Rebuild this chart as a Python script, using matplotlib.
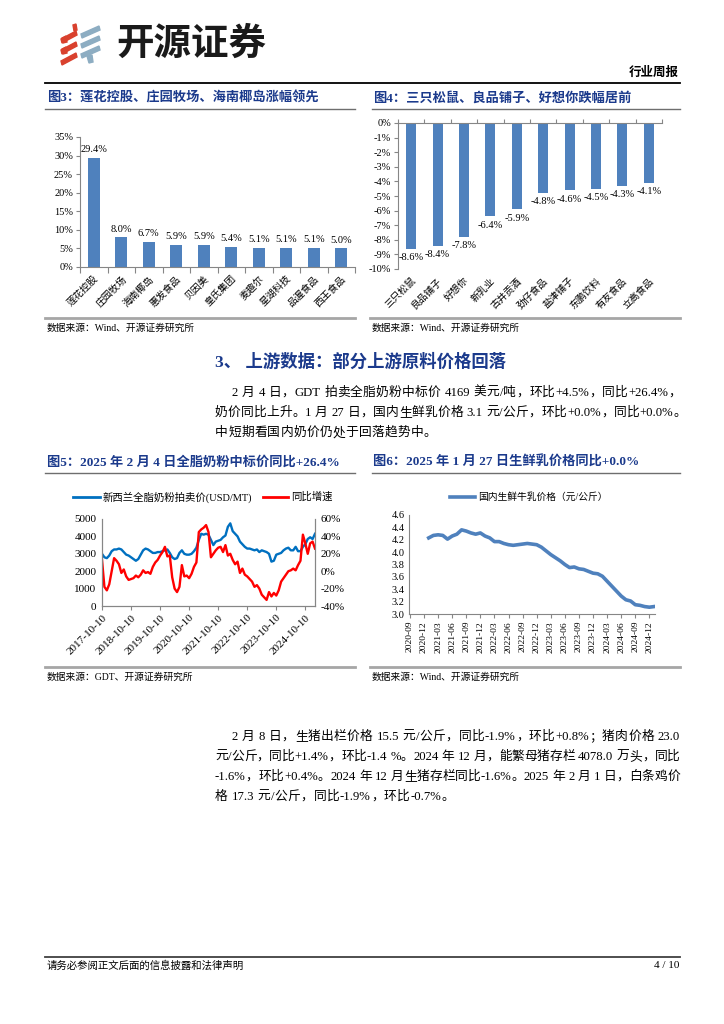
import re
import matplotlib
matplotlib.use('Agg')
import matplotlib.pyplot as plt
from matplotlib.lines import Line2D
from matplotlib.patches import Polygon
import numpy as np

W, H, DPI = 724, 1024, 100
plt.rcParams['font.family'] = ['Liberation Serif', 'Noto Sans CJK SC']
plt.rcParams['axes.unicode_minus'] = False

BAR = '#4F81BD'
NAVY = '#1B3A8C'
SPINE = '#868686'

# fig3: top gainers
f3_names = ['莲花控股', '庄园牧场', '海南椰岛', '惠发食品', '贝因美',
            '皇氏集团', '麦趣尔', '星湖科技', '品渥食品', '西王食品']
f3_vals = [29.4, 8.0, 6.7, 5.9, 5.9, 5.4, 5.1, 5.1, 5.1, 5.0]

# fig4: top losers
f4_names = ['三只松鼠', '良品铺子', '好想你', '新乳业', '古井贡酒',
            '劲仔食品', '盐津铺子', '东鹏饮料', '有友食品', '立高食品']
f4_vals = [-8.6, -8.4, -7.8, -6.4, -5.9, -4.8, -4.6, -4.5, -4.3, -4.1]

# fig5: GDT whole milk powder, monthly from 2017-10 to 2025-02
gdt_price = [3000, 2800, 2750, 2900, 3150, 3250, 3250, 3300, 3250, 3100,
             2950, 2900, 2800, 2700, 2600, 2700, 2950, 3200, 3300, 3250,
             3150, 3050, 3050, 3100, 3100, 3150, 3200, 3250, 3050, 2800,
             2700, 2750, 3050, 3200, 3000, 2950, 2950, 3000, 3150, 3350,
             3800, 4150, 4100, 4150, 4100, 3800, 3500, 3700, 3750, 3800,
             3950, 4050, 4550, 4750, 4300, 4150, 4000, 3700, 3550, 3400,
             3300, 3300, 3250, 3200, 3250, 3100, 3200, 3150, 3100, 3000,
             2550, 2600, 2950, 3000, 3050, 3200, 3300, 3350, 3200, 3200,
             3400, 3150, 3150, 3400, 3550, 3850, 3950, 3850, 4150]
gdt_yoy = [13, -18, -22, -15, 0, 15, 12, 8, -2, 2,
           -6, -10, -9, -8, -5, -7, -4, 1, -2, -1,
           -3, 5, 10, 13, 18, 22, 28, 17, 18, -7,
           -20, -24, -18, 7, -6, -5, -8, -3, 5, 10,
           45, 48, 50, 53, 45, 16, 20, 24, 27, 28,
           22, 30, 18, 20, 13, 8, 11, -2, 3, -4,
           -6, -9, -12, -18, -16, -20, -27, -30, -33, -24,
           -29, -25, -28, -22, -12, -8, -4, 0, 1, 3,
           1, 7, 12, 42, 32, 20, 32, 34, 26]
gdt_years = ['2017-10-10', '2018-10-10', '2019-10-10', '2020-10-10',
             '2021-10-10', '2022-10-10', '2023-10-10', '2024-10-10']

# fig6: domestic raw milk price, monthly, index 0 = 2020-09
milk_month = list(range(4, 53))
milk_price = [4.23, 4.27, 4.28, 4.27, 4.21, 4.26, 4.29, 4.36, 4.34, 4.31,
              4.29, 4.31, 4.26, 4.23, 4.17, 4.17, 4.14, 4.12, 4.11, 4.12,
              4.13, 4.14, 4.13, 4.12, 4.08, 4.02, 3.96, 3.91, 3.86, 3.80,
              3.75, 3.76, 3.73, 3.72, 3.69, 3.66, 3.65, 3.61, 3.53, 3.45,
              3.37, 3.29, 3.23, 3.21, 3.15, 3.14, 3.12, 3.11, 3.12]
milk_ticks = ['2020-09', '2020-12', '2021-03', '2021-06', '2021-09', '2021-12',
              '2022-03', '2022-06', '2022-09', '2022-12', '2023-03', '2023-06',
              '2023-09', '2023-12', '2024-03', '2024-06', '2024-09', '2024-12']


def fx(x):
    return x / W


def fy(y):
    return 1 - y / H


def box(l, t, r, b):
    return [l / W, 1 - b / H, (r - l) / W, (b - t) / H]


def hline(fig, x0, x1, y, color, lw):
    fig.add_artist(Line2D([fx(x0), fx(x1)], [fy(y), fy(y)], color=color, lw=lw))


def line_text(fig, s, y, x0, x1, size, justify=True, **kw):
    # place token by token so the line fills x0..x1 like justified text
    r = fig.canvas.get_renderer()
    toks = re.findall(r'[!-~]+| |.', s)
    arts, widths = [], []
    for tk in toks:
        if tk == ' ':
            arts.append(None)
            widths.append(size * 0.25 / 72 * DPI)
            continue
        t = fig.text(0, fy(y), tk, fontsize=size, va='center', ha='left', **kw)
        arts.append(t)
        widths.append(t.get_window_extent(renderer=r).width)
    gap = (x1 - x0 - sum(widths)) / max(len(toks) - 1, 1) if justify else 0.3
    x = x0
    for a, w in zip(arts, widths):
        if a is not None:
            a.set_x(fx(x))
        x += w + gap


fig = plt.figure(figsize=(W / DPI, H / DPI), dpi=DPI)

# header / logo
red = '#D9412E'
blue = '#8DADC2'
for yc in [36, 47, 58]:
    fig.add_artist(Polygon([(fx(61), fy(yc + 3)), (fx(76), fy(yc - 5)),
                            (fx(77), fy(yc - 1)), (fx(62), fy(yc + 7))],
                           closed=True, color=red, transform=fig.transFigure))
for yc in [41, 52]:
    fig.add_artist(Polygon([(fx(62), fy(yc - 3)), (fx(66), fy(yc - 5)),
                            (fx(67), fy(yc + 1)), (fx(63), fy(yc + 2))],
                           closed=True, color=red, transform=fig.transFigure))
fig.add_artist(Polygon([(fx(73), fy(25)), (fx(76), fy(24)), (fx(77), fy(30)), (fx(74), fy(31))],
                       closed=True, color=red, transform=fig.transFigure))
for yc in [31, 41, 51]:
    fig.add_artist(Polygon([(fx(81), fy(yc + 3)), (fx(99), fy(yc - 5)),
                            (fx(100), fy(yc - 1)), (fx(82), fy(yc + 7))],
                           closed=True, color=blue, transform=fig.transFigure))
fig.add_artist(Polygon([(fx(87), fy(56)), (fx(92), fy(55)), (fx(93), fy(62)), (fx(89), fy(63))],
                       closed=True, color=blue, transform=fig.transFigure))
fig.text(fx(116), fy(43), '开源证券', fontsize=27, fontweight='bold', va='center',
         ha='left', family=['Noto Sans CJK SC'], color='#1A1A1A')
fig.text(fx(679), fy(73), '行业周报', fontsize=9, fontweight='bold', ha='right', va='center')
hline(fig, 45, 680, 83, 'black', 1.3)

# figure titles row 1
fig.text(fx(47), fy(98), '图3：莲花控股、庄园牧场、海南椰岛涨幅领先', fontsize=9.5,
         fontweight='bold', color=NAVY, va='center')
fig.text(fx(373), fy(98), '图4：三只松鼠、良品铺子、好想你跌幅居前', fontsize=9.5,
         fontweight='bold', color=NAVY, va='center')
hline(fig, 45, 355, 109, '#6E6E6E', 1.0)
hline(fig, 372, 680, 109, '#6E6E6E', 1.0)

# fig3
ax3 = fig.add_axes(box(80, 137, 355, 267))
x = np.arange(len(f3_vals))
ax3.bar(x, f3_vals, width=0.42, color=BAR)
for xi, v in zip(x, f3_vals):
    ax3.text(xi, v + 1.0, f'{v:.1f}%', ha='center', va='bottom', fontsize=7.5)
ax3.set_xlim(-0.5, len(f3_vals) - 0.5)
ax3.set_ylim(0, 35)
ax3.set_yticks(range(0, 36, 5))
ax3.set_yticklabels([f'{v}%' for v in range(0, 36, 5)], fontsize=7.5)
ax3.set_xticks(np.arange(-0.5, len(f3_vals)), [])
ax3.set_xticks(x, f3_names, minor=True, rotation=45, ha='right',
               rotation_mode='anchor', fontsize=7)
ax3.tick_params(axis='x', which='major', length=4, color=SPINE)
ax3.tick_params(axis='x', which='minor', length=0, pad=5)
ax3.tick_params(axis='y', length=3, color=SPINE, pad=2)
for s in ['top', 'right']:
    ax3.spines[s].set_visible(False)
for s in ['left', 'bottom']:
    ax3.spines[s].set_color(SPINE)

# fig4
ax4 = fig.add_axes(box(398, 123, 662, 269))
x = np.arange(len(f4_vals))
ax4.bar(x, f4_vals, width=0.38, color=BAR)
for xi, v in zip(x, f4_vals):
    ax4.text(xi, v - 0.3, f'{v:.1f}%', ha='center', va='top', fontsize=7.5)
ax4.set_xlim(-0.5, len(f4_vals) - 0.5)
ax4.set_ylim(-10, 0)
ax4.set_yticks(range(-10, 1))
ax4.set_yticklabels([f'{v}%' for v in range(-10, 1)], fontsize=7.5)
ax4.set_xticks(np.arange(-0.5, len(f4_vals)), [])
ax4.set_xticks(x, f4_names, minor=True, rotation=45, ha='right',
               rotation_mode='anchor', fontsize=7)
ax4.tick_params(axis='x', which='major', top=True, bottom=False, length=3, color=SPINE)
ax4.tick_params(axis='x', which='minor', length=0, pad=5)
ax4.tick_params(axis='y', length=3, color=SPINE, pad=2)
for s in ['bottom', 'right']:
    ax4.spines[s].set_visible(False)
for s in ['left', 'top']:
    ax4.spines[s].set_color(SPINE)

# sources row 1
hline(fig, 45, 355, 318, '#A6A6A6', 2.0)
hline(fig, 370, 680, 318, '#A6A6A6', 2.0)
fig.text(fx(47), fy(328), '数据来源：Wind、开源证券研究所', fontsize=7, va='center')
fig.text(fx(372), fy(328), '数据来源：Wind、开源证券研究所', fontsize=7, va='center')

# section heading and paragraph 1
fig.text(fx(215), fy(362), '3、 上游数据：部分上游原料价格回落', fontsize=12.5,
         fontweight='bold', color=NAVY, va='center')
line_text(fig, '2 月 4 日，GDT 拍卖全脂奶粉中标价 4169 美元/吨，环比+4.5%，同比+26.4%，',
          393, 232, 681, 9.2)
line_text(fig, '奶价同比上升。1 月 27 日，国内生鲜乳价格 3.1 元/公斤，环比+0.0%，同比+0.0%。',
          413, 215, 686, 9.2)
line_text(fig, '中短期看国内奶价仍处于回落趋势中。', 433, 215, 460, 9.2, justify=False)

# figure titles row 2
fig.text(fx(47), fy(462), '图5：2025 年 2 月 4 日全脂奶粉中标价同比+26.4%', fontsize=9.5,
         fontweight='bold', color=NAVY, va='center')
fig.text(fx(373), fy(462), '图6：2025 年 1 月 27 日生鲜乳价格同比+0.0%', fontsize=9.5,
         fontweight='bold', color=NAVY, va='center')
hline(fig, 45, 355, 473, '#6E6E6E', 1.0)
hline(fig, 372, 680, 473, '#6E6E6E', 1.0)

# fig5
ax5 = fig.add_axes(box(102, 519, 315, 606))
m = np.arange(len(gdt_price))
ax5.plot(m, gdt_price, color='#0070C0', lw=1.7)
ax5.set_ylim(0, 5000)
ax5.set_yticks(range(0, 5001, 1000))
ax5.set_xlim(0, len(gdt_price) - 1)
ax5.set_xticks(np.arange(0, 85, 12), gdt_years, rotation=45, ha='right',
               rotation_mode='anchor', fontsize=8)
ax5.tick_params(axis='y', labelsize=8, length=0, pad=4)
ax5.tick_params(axis='x', length=3, color=SPINE, pad=2)
ax5r = ax5.twinx()
ax5r.plot(m, gdt_yoy, color='#FF0000', lw=1.7)
ax5r.set_ylim(-40, 60)
ax5r.set_yticks(range(-40, 61, 20))
ax5r.set_yticklabels([f'{v}%' for v in range(-40, 61, 20)], fontsize=8)
ax5r.tick_params(axis='y', length=0, pad=4)
for a in (ax5, ax5r):
    a.spines['top'].set_visible(False)
    for s in ['left', 'right', 'bottom']:
        a.spines[s].set_color(SPINE)
hline(fig, 73, 100, 497, '#0070C0', 2.0)
fig.text(fx(103), fy(497), '新西兰全脂奶粉拍卖价(USD/MT)', fontsize=7.5, va='center')
hline(fig, 263, 288, 497, '#FF0000', 2.0)
fig.text(fx(291), fy(497), '同比增速', fontsize=7.5, va='center')

# fig6
ax6 = fig.add_axes(box(409, 515, 655, 614))
ax6.plot(milk_month, milk_price, color=BAR, lw=2.6)
ax6.set_ylim(3.0, 4.6)
ax6.set_yticks(np.arange(3.0, 4.61, 0.2))
ax6.set_yticklabels([f'{v:.1f}' for v in np.arange(3.0, 4.61, 0.2)], fontsize=7.5)
ax6.set_xlim(-0.2, 52.2)
ax6.set_xticks(np.arange(0, 52, 3), milk_ticks, rotation=90, fontsize=6.8)
ax6.tick_params(axis='x', length=3, color=SPINE, pad=2)
ax6.tick_params(axis='y', length=0, pad=3)
for s in ['top', 'right']:
    ax6.spines[s].set_visible(False)
for s in ['left', 'bottom']:
    ax6.spines[s].set_color(SPINE)
hline(fig, 450, 475, 497, BAR, 2.6)
fig.text(fx(478), fy(497), '国内生鲜牛乳价格（元/公斤）', fontsize=7, va='center')

# sources row 2
hline(fig, 45, 355, 667, '#A6A6A6', 2.0)
hline(fig, 370, 680, 667, '#A6A6A6', 2.0)
fig.text(fx(47), fy(677), '数据来源：GDT、开源证券研究所', fontsize=7, va='center')
fig.text(fx(372), fy(677), '数据来源：Wind、开源证券研究所', fontsize=7, va='center')

# paragraph 2
line_text(fig, '2 月 8 日，生猪出栏价格 15.5 元/公斤，同比-1.9%，环比+0.8%；猪肉价格 23.0',
          737, 232, 680, 9.2)
line_text(fig, '元/公斤，同比+1.4%，环比-1.4 %。2024 年 12 月，能繁母猪存栏 4078.0 万头，同比',
          757, 215, 680, 9.2)
line_text(fig, '-1.6%，环比+0.4%。2024 年 12 月生猪存栏同比-1.6%。2025 年 2 月 1 日，白条鸡价',
          777, 215, 680, 9.2)
line_text(fig, '格 17.3 元/公斤，同比-1.9%，环比-0.7%。', 797, 215, 460, 9.2, justify=False)

# footer
hline(fig, 45, 680, 957, '#404040', 1.3)
fig.text(fx(47), fy(966), '请务必参阅正文后面的信息披露和法律声明', fontsize=7.5, va='center')
fig.text(fx(679), fy(966), '4 / 10', fontsize=8, va='center', ha='right')

fig.savefig('out.png', dpi=DPI)
